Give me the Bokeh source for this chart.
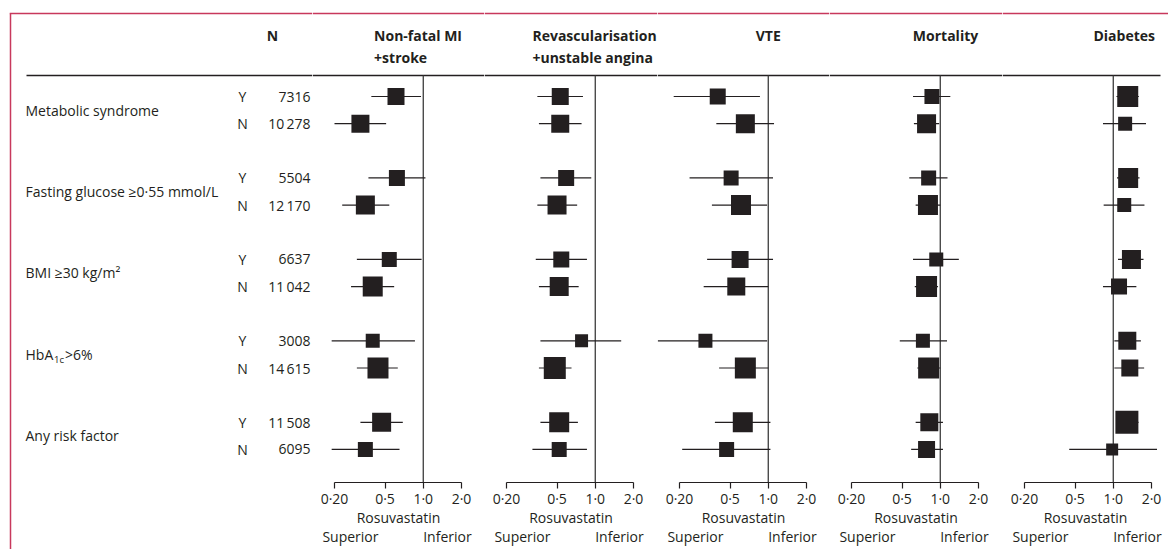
from bokeh.plotting import figure
from bokeh.layouts import row
from bokeh.models import Range1d, LogAxis, FixedTicker
from bokeh.core.properties import value
from bokeh.embed import file_html
from bokeh.resources import INLINE

FONT = "Open Sans"
INK = "#231f20"
FRAME = "#c8385c"

# ---------------- data ----------------
groups = ["Metabolic syndrome", "Fasting glucose \u22650\u00b755 mmol/L",
          "BMI \u226530 kg/m\u00b2", "HbA1c >6%", "Any risk factor"]
yn_labels = ["Y", "N"]
n_yes = [7316, 5504, 6637, 3008, 11508]
n_no = [10278, 12170, 11042, 14615, 6095]

header_top = ["Non-fatal MI", "Revascularisation", "VTE", "Mortality", "Diabetes"]
header_bottom = ["+stroke", "+unstable angina", "", "", ""]

tick_values = [0.2, 0.5, 1.0, 2.0]
tick_labels = ["0\u00b720", "0\u00b75", "1\u00b70", "2\u00b70"]
axis_title = "Rosuvastatin"
direction_labels = ["Superior", "Inferior"]

# rows: MS Y, MS N, FG Y, FG N, BMI Y, BMI N, HbA1c Y, HbA1c N, Any Y, Any N
mi_hr = [0.61, 0.32, 0.62, 0.35, 0.54, 0.40, 0.40, 0.44, 0.47, 0.35]
mi_lo = [0.39, 0.20, 0.37, 0.23, 0.30, 0.27, 0.19, 0.30, 0.32, 0.19]
mi_hi = [0.96, 0.51, 1.04, 0.54, 0.97, 0.59, 0.86, 0.63, 0.69, 0.65]

rv_hr = [0.53, 0.53, 0.59, 0.50, 0.54, 0.52, 0.78, 0.48, 0.52, 0.52]
rv_lo = [0.35, 0.36, 0.37, 0.35, 0.34, 0.36, 0.37, 0.36, 0.37, 0.32]
rv_hi = [0.80, 0.78, 0.93, 0.72, 0.86, 0.74, 1.60, 0.65, 0.73, 0.86]

vte_hr = [0.40, 0.66, 0.51, 0.61, 0.60, 0.56, 0.32, 0.66, 0.63, 0.47]
vte_lo = [0.18, 0.39, 0.24, 0.36, 0.33, 0.31, 0.135, 0.41, 0.38, 0.21]
vte_hi = [0.86, 1.11, 1.09, 0.98, 1.09, 1.00, 0.98, 1.00, 1.04, 1.04]

mort_hr = [0.86, 0.78, 0.81, 0.80, 0.93, 0.78, 0.73, 0.81, 0.82, 0.78]
mort_lo = [0.61, 0.62, 0.57, 0.64, 0.61, 0.63, 0.48, 0.66, 0.64, 0.59]
mort_hi = [1.20, 0.98, 1.14, 1.00, 1.40, 0.96, 1.13, 1.00, 1.05, 1.05]

dm_hr = [1.30, 1.24, 1.31, 1.22, 1.39, 1.11, 1.29, 1.35, 1.28, 0.98]
dm_lo = [1.06, 0.83, 1.07, 0.84, 1.09, 0.83, 1.02, 1.02, 1.06, 0.45]
dm_hi = [1.59, 1.81, 1.61, 1.76, 1.73, 1.52, 1.65, 1.75, 1.58, 2.21]

# box sizes (style: weight of each estimate, in px)
mi_box = [17, 18, 16, 19, 15, 20, 14, 21, 19, 15]
rv_box = [17, 18, 16, 19, 16, 19, 13, 22, 20, 15]
vte_box = [16, 19, 15, 20, 17, 18, 14, 21, 20, 15]
mort_box = [15, 19, 15, 20, 14, 21, 14, 21, 18, 17]
dm_box = [21, 14, 20, 14, 19, 16, 18, 17, 23, 12]

panels = [(mi_hr, mi_lo, mi_hi, mi_box), (rv_hr, rv_lo, rv_hi, rv_box),
          (vte_hr, vte_lo, vte_hi, vte_box), (mort_hr, mort_lo, mort_hi, mort_box),
          (dm_hr, dm_lo, dm_hi, dm_box)]

# ---------------- layout helpers ----------------
ROW_PX = 27.15
ORIGIN_PX = 96.0


def yu(px):
    return (px - ORIGIN_PX) / ROW_PX


row_y = [3 * g + k for g in range(len(groups)) for k in range(2)]

LEFT_W = 312
TOTAL_H = 549
FRAME_H = 482
DECADE = 127.0
OFFSET = 22.0
panel_w = [172, 173, 172, 173, 166]
rule_end = [172, 173, 172, 173, 158]
header_anchor = [(0.41, "left"), (0.32, "left"), (1.0, "center"), (1.1, "center"), (1.22, "center")]


def px_to_hr(px):
    return tick_values[0] * 10 ** ((px - OFFSET) / DECADE)


# ---------------- left (labels) figure ----------------
left = figure(frame_width=LEFT_W, frame_height=TOTAL_H, x_range=Range1d(0, LEFT_W),
              y_range=Range1d(yu(TOTAL_H), yu(0)), x_axis_location=None,
              y_axis_location=None, toolbar_location=None, output_backend="svg",
              min_border=0, background_fill_color=None, border_fill_color=None)
left.grid.visible = False
left.outline_line_color = None

left.segment(x0=[26], x1=[LEFT_W], y0=[yu(75)], y1=[yu(75)], line_color=INK, line_width=1.5)
left.segment(x0=[9.25], x1=[LEFT_W], y0=[yu(13)], y1=[yu(13)], line_color=FRAME, line_width=1.5)
left.segment(x0=[10], x1=[10], y0=[yu(13)], y1=[yu(TOTAL_H)], line_color=FRAME, line_width=1.5)

left.text(x=[272], y=[yu(35)], text=["N"], text_font=value(FONT), text_font_style="bold",
          text_font_size="14px", text_align="center", text_baseline="middle", text_color=INK)

plain_idx = [i for i, g in enumerate(groups) if not g.startswith("HbA1c")]
left.text(x=[25] * len(plain_idx), y=[3 * i + 0.5 for i in plain_idx],
          text=[groups[i] for i in plain_idx], text_font=value(FONT), text_font_size="14px",
          text_align="left", text_baseline="middle", text_color=INK)
for i, g in enumerate(groups):
    if g.startswith("HbA1c"):
        yy = 3 * i + 0.5
        left.text(x=[25], y=[yy], text=["HbA"], text_font=value(FONT), text_font_size="14px",
                  text_align="left", text_baseline="middle", text_color=INK)
        left.text(x=[53.5], y=[yy], text=["1c"], text_font=value(FONT), text_font_size="9.5px",
                  text_align="left", text_baseline="middle", text_color=INK, y_offset=5)
        left.text(x=[64.5], y=[yy], text=[g[5:].strip()], text_font=value(FONT),
                  text_font_size="14px", text_align="left", text_baseline="middle", text_color=INK)


def fmt_n(n):
    s = str(n)
    return s[:-3] + "\u2009" + s[-3:] if n >= 10000 else s


counts = []
for a, b in zip(n_yes, n_no):
    counts += [fmt_n(a), fmt_n(b)]
left.text(x=[242] * len(row_y), y=row_y, text=yn_labels * len(groups), text_font=value(FONT),
          text_font_size="14px", text_align="center", text_baseline="middle", text_color=INK)
left.text(x=[310] * len(row_y), y=row_y, text=counts, text_font=value(FONT),
          text_font_size="14px", text_align="right", text_baseline="middle", text_color=INK)

figs = [left]

# ---------------- forest panels ----------------
for i, (hr, lo, hi, box) in enumerate(panels):
    w = panel_w[i]
    x0 = px_to_hr(0)
    x1 = px_to_hr(w)
    p = figure(frame_width=w, frame_height=FRAME_H, x_axis_type="log", x_range=Range1d(x0, x1),
               y_range=Range1d(yu(FRAME_H), yu(0)), y_axis_location=None,
               toolbar_location=None, output_backend="svg", min_border=0,
               background_fill_color=None, border_fill_color=None)
    p.grid.visible = False
    p.outline_line_color = None

    # header rule and frame top border across the panel
    p.segment(x0=[x0], x1=[px_to_hr(rule_end[i])], y0=[yu(75)], y1=[yu(75)],
              line_color=INK, line_width=1.5)
    p.segment(x0=[x0], x1=[x1], y0=[yu(13)], y1=[yu(13)], line_color=FRAME, line_width=1.5)

    # line of no effect
    p.segment(x0=[1.0], x1=[1.0], y0=[yu(75)], y1=[yu(FRAME_H)], line_color="#3c3c3c",
              line_width=1.3)

    p.segment(x0=lo, x1=hi, y0=row_y, y1=row_y, line_color=INK, line_width=1.2)
    p.scatter(x=hr, y=row_y, size=box, marker="square", fill_color=INK, line_color=None)

    hx, ha = header_anchor[i]
    p.text(x=[hx], y=[yu(35)], text=[header_top[i]], text_font=value(FONT),
           text_font_style="bold", text_font_size="14px", text_align=ha,
           text_baseline="middle", text_color=INK)
    if header_bottom[i]:
        p.text(x=[hx], y=[yu(57)], text=[header_bottom[i]], text_font=value(FONT),
               text_font_style="bold", text_font_size="14px", text_align=ha,
               text_baseline="middle", text_color=INK)

    ax = p.xaxis[0]
    ax.ticker = FixedTicker(ticks=tick_values)
    ax.major_label_overrides = dict(zip(tick_values, tick_labels))
    ax.bounds = (tick_values[0], tick_values[-1])
    ax.axis_line_color = INK
    ax.axis_line_width = 1.2
    ax.major_tick_line_color = INK
    ax.major_tick_line_width = 1.2
    ax.major_tick_in = 0
    ax.major_tick_out = 6
    ax.minor_tick_line_color = None
    ax.major_label_standoff = 0
    ax.major_label_text_font = FONT
    ax.major_label_text_font_size = "14px"
    ax.major_label_text_color = INK
    ax.axis_label = axis_title
    ax.axis_label_standoff = -3
    ax.axis_label_text_font = FONT
    ax.axis_label_text_font_size = "14px"
    ax.axis_label_text_font_style = "normal"
    ax.axis_label_text_color = INK

    dir_ticks = [0.267, 1.55]
    ax2 = LogAxis(ticker=FixedTicker(ticks=dir_ticks),
                  major_label_overrides=dict(zip(dir_ticks, direction_labels)),
                  axis_line_color=None, major_tick_line_color=None,
                  minor_tick_line_color=None, major_tick_in=0, major_tick_out=0,
                  major_label_standoff=-3, major_label_text_font=FONT,
                  major_label_text_font_size="14px", major_label_text_color=INK)
    p.add_layout(ax2, "below")
    figs.append(p)

layout = row(*figs)
open("out.html", "w").write(file_html(layout, INLINE))
